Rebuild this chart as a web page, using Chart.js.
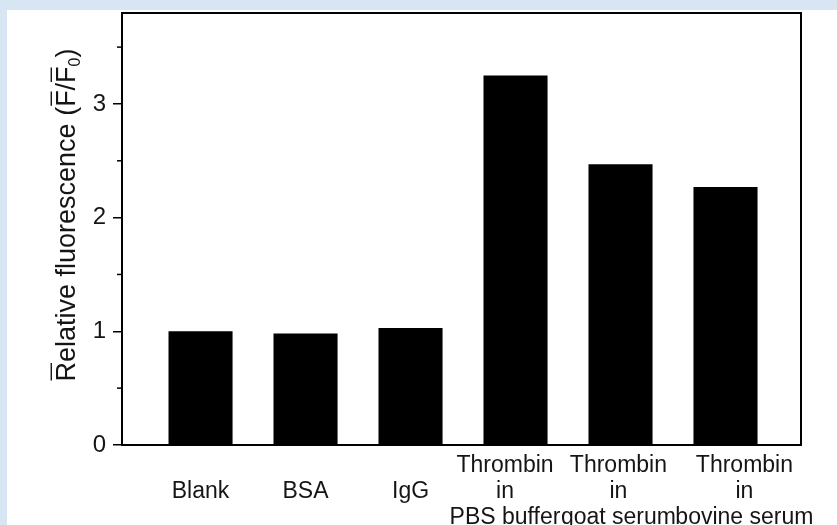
<!DOCTYPE html>
<html>
<head>
<meta charset="utf-8">
<script src="https://cdn.jsdelivr.net/npm/chart.js@4.4.1/dist/chart.umd.min.js"></script>
<style>
  html, body { margin: 0; padding: 0; background: #ffffff; }
  #frame {
    width: 830px; height: 515px;
    border-top: 10px solid #d8e5f3;
    border-left: 7px solid #d8e5f3;
    background: #ffffff;
  }
  canvas { display: block; }
</style>
</head>
<body>
<div id="frame"><canvas id="chart" width="830" height="515"></canvas></div>
<script>
// Sample groups, shown as multi-line axis labels under each bar
const categories = [
  ["", "Blank"],
  ["", "BSA"],
  ["", "IgG"],
  ["Thrombin", "in", "PBS buffer"],
  ["Thrombin", "in", "goat serum"],
  ["Thrombin", "in", "bovine serum"]
];
// Relative fluorescence F/F0 for each group
const fluorescence = [1.00, 0.98, 1.03, 3.25, 2.47, 2.27];
// Labelled y ticks and the unlabelled minor ticks between them
const yTicks = [0, 1, 2, 3];
const yMinorTicks = [0.5, 1.5, 2.5, 3.5];

// Sideways nudge (in category units) so the long serum labels don't collide
const labelNudge = [0, 0, 0, -0.1, -0.02, 0.18];

const FONT = '"Liberation Sans", Arial, Helvetica, sans-serif';
const INK = '#151515';

// Closed box around the plot area plus short minor ticks on the left axis
const framePlugin = {
  id: 'frame',
  afterDraw(chart) {
    const { ctx, chartArea: a, scales } = chart;
    ctx.save();
    ctx.strokeStyle = '#000';
    ctx.lineWidth = 2;
    ctx.strokeRect(a.left, a.top, a.right - a.left, a.bottom - a.top);
    ctx.lineWidth = 1.5;
    yMinorTicks.forEach(v => {
      const y = scales.y.getPixelForValue(v);
      ctx.beginPath();
      ctx.moveTo(a.left - 5, y);
      ctx.lineTo(a.left, y);
      ctx.stroke();
    });
    ctx.restore();
  }
};

// Rotated y-axis title with overbars (mean values) and a subscript zero
const yTitlePlugin = {
  id: 'yTitle',
  afterDraw(chart) {
    const { ctx, chartArea: a } = chart;
    const size = 27;
    const parts = [
      { t: 'R', bar: true },
      { t: 'elative fluorescence (' },
      { t: 'F', bar: true },
      { t: '/' },
      { t: 'F', bar: true },
      { t: '0', sub: true },
      { t: ')' }
    ];
    ctx.save();
    const fontMain = size + 'px ' + FONT;
    const fontSub = Math.round(size * 0.6) + 'px ' + FONT;
    let total = 0;
    parts.forEach(p => {
      ctx.font = p.sub ? fontSub : fontMain;
      p.w = ctx.measureText(p.t).width;
      total += p.w;
    });
    const cx = 58;
    const cy = (a.top + a.bottom) / 2 - 14;
    ctx.translate(cx, cy);
    ctx.rotate(-Math.PI / 2);
    ctx.fillStyle = INK;
    ctx.strokeStyle = INK;
    ctx.lineWidth = 1.4;
    ctx.textBaseline = 'alphabetic';
    const base = size * 0.36;
    let x = -total / 2;
    parts.forEach(p => {
      ctx.font = p.sub ? fontSub : fontMain;
      ctx.fillText(p.t, x, p.sub ? base + size * 0.2 : base);
      if (p.bar) {
        const yb = base - size * 0.72 - 4;
        ctx.beginPath();
        ctx.moveTo(x + 1, yb);
        ctx.lineTo(x + p.w - 1, yb);
        ctx.stroke();
      }
      x += p.w;
    });
    ctx.restore();
  }
};

new Chart(document.getElementById('chart'), {
  type: 'bar',
  data: {
    datasets: [{
      data: fluorescence.map((v, i) => ({ x: i, y: v })),
      backgroundColor: '#000000',
      borderWidth: 0,
      // the bar ruler sees the closest (nudged) label gap, 0.9 of a category
      barPercentage: 0.678,
      categoryPercentage: 1.0
    }]
  },
  options: {
    responsive: false,
    animation: false,
    layout: { padding: { top: 3, right: 36, bottom: 0, left: 0 } },
    plugins: {
      legend: { display: false },
      tooltip: { enabled: false }
    },
    scales: {
      x: {
        type: 'linear',
        min: -0.748,
        max: 5.719,
        offset: false,
        grid: { display: false, offset: false },
        border: { display: true, color: '#000', width: 2 },
        afterBuildTicks(scale) {
          scale.ticks = categories.map((_, i) => ({ value: i + labelNudge[i] }));
        },
        afterFit(scale) {
          scale.height = 80;
          scale.paddingLeft = 0;
          scale.paddingRight = 0;
        },
        ticks: {
          autoSkip: false,
          maxRotation: 0,
          minRotation: 0,
          padding: 0,
          color: INK,
          font: { family: FONT, size: 23, lineHeight: 1.12 },
          callback: (value, index) => categories[index]
        }
      },
      y: {
        min: 0,
        max: 3.8,
        afterBuildTicks(scale) {
          scale.ticks = yTicks.map(v => ({ value: v }));
        },
        afterFit(scale) {
          scale.width = 115;
          scale.paddingTop = 0;
          scale.paddingBottom = 0;
        },
        grid: {
          drawOnChartArea: false,
          drawTicks: true,
          tickLength: 9,
          color: '#000',
          lineWidth: 1.5
        },
        border: { display: true, color: '#000', width: 2 },
        ticks: {
          padding: 7,
          color: INK,
          font: { family: FONT, size: 24 },
          callback: (v) => String(v)
        }
      }
    }
  },
  plugins: [framePlugin, yTitlePlugin]
});
</script>
</body>
</html>
